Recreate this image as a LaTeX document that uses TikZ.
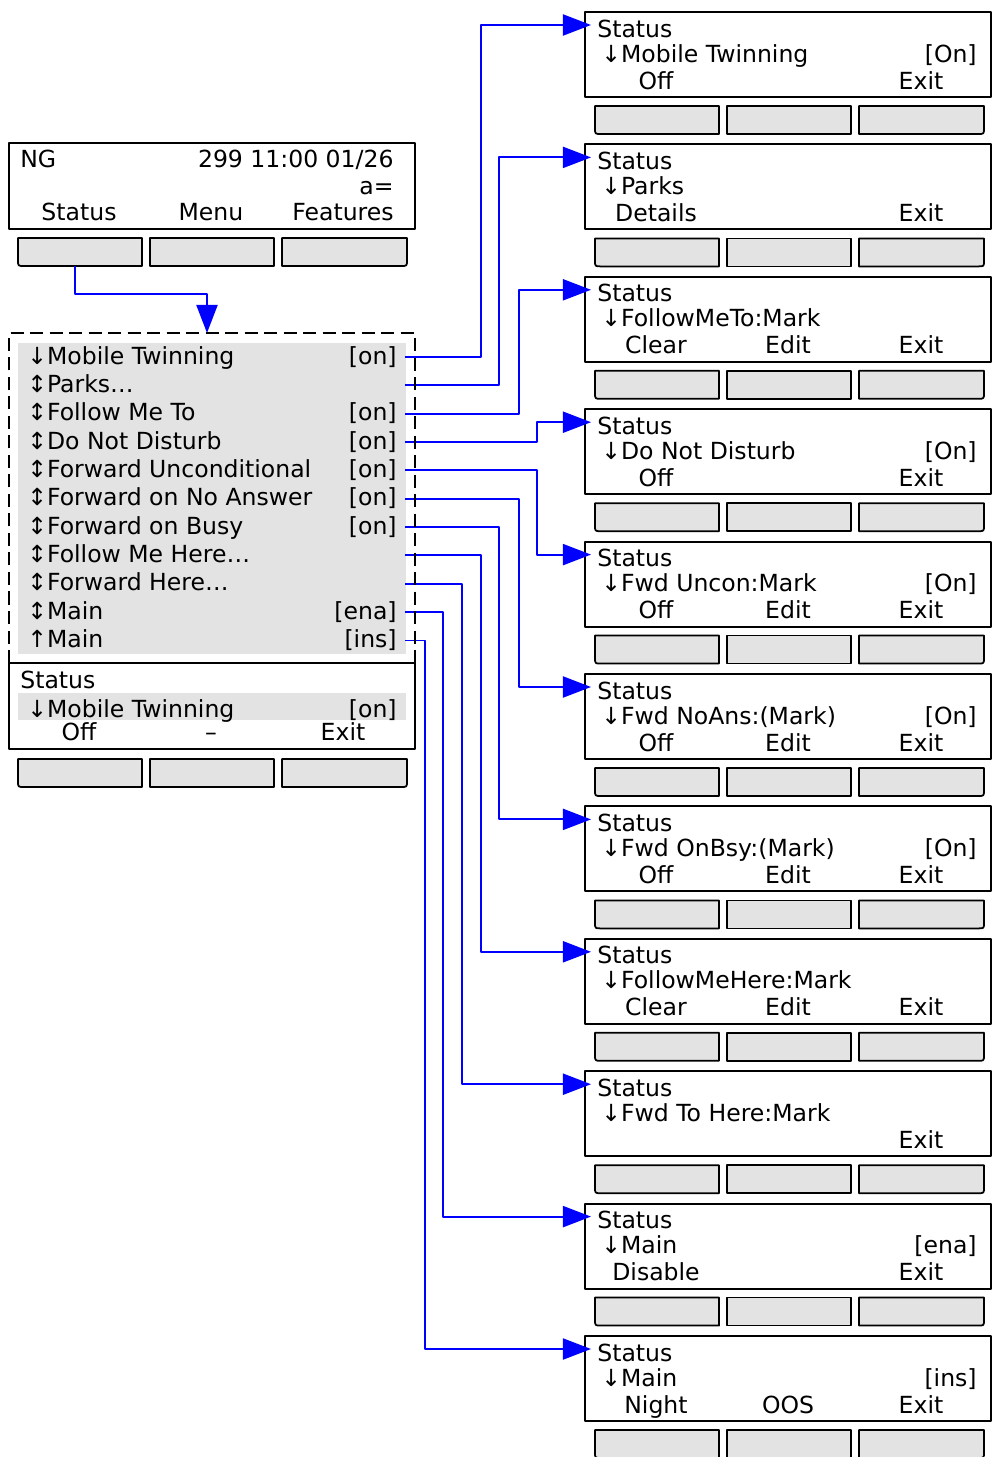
\documentclass[tikz,border=0pt]{standalone}
\usepackage{fontspec}
\setmainfont{DejaVu Sans}
\usetikzlibrary{arrows.meta}

\begin{document}
\begin{tikzpicture}[x=0.02cm, y=-0.02cm, line join=round, font=\fontsize{13.4}{16}\selectfont]
  \useasboundingbox (0,0) rectangle (994,1457);

  % Estilos
  \tikzset{
    screenbox/.style={draw=black, line width=1.1pt},
    keybox/.style={draw=black, line width=1pt, fill=black!11},
    link/.style={draw=blue, line width=1.1pt},
    linktip/.style={-{Triangle[length=16pt,width=12pt]}},
    txtl/.style={inner sep=0pt, anchor=base west},
    txtr/.style={inner sep=0pt, anchor=base east},
    txtc/.style={inner sep=0pt, anchor=base},
    softkeys/.pic={
      \path[keybox] (0,0) -- (124,0) -- (124,28) -- (6,28) .. controls (0,28) .. (0,22) -- cycle;
      \path[keybox] (132,0) rectangle (256,28);
      \path[keybox] (264,0) -- (389,0) -- (389,22) .. controls (389,28) .. (383,28) -- (264,28) -- cycle;
      \coordinate (-a) at (57,28);
    }
  }

  % Pantalla inicial
  \draw[screenbox] (9,143) rectangle (415,229);
  \node[txtl] (ng) at (20,167) {NG};
  \node[txtr] (clock) at (394,167) {299 11:00 01/26};
  \node[txtr] (aeq) at (394,194) {a=};
  \node[txtc] (kstatus) at (79,220) {Status};
  \node[txtc] (kmenu) at (211,220) {Menu};
  \node[txtc] (kfeat) at (343,220) {Features};
  \pic (home) at (18,238) {softkeys};

  % Lista del menu Status
  \coordinate (mtop) at (207,333);
  \fill[black!11] (18,343) rectangle (406,654);
  \foreach \k/\sym/\txt/\val in {1/↓/Mobile Twinning/[on], 2/↕/{Parks\ldots}/, 3/↕/Follow Me To/[on],
      4/↕/Do Not Disturb/[on], 5/↕/Forward Unconditional/[on], 6/↕/Forward on No Answer/[on],
      7/↕/Forward on Busy/[on], 8/↕/{Follow Me Here\ldots}/, 9/↕/{Forward Here\ldots}/,
      10/↕/Main/[ena], 11/↑/Main/[ins]}{
    \pgfmathsetmacro\ry{357+28.35*(\k-1)}
    \node[txtl] (m\k) at (27,\ry+7) {\sym\txt};
    \node[txtr] (v\k) at (397,\ry+7) {\val};
    \coordinate (out\k) at (405,\ry);
  }

  % Pantalla Status con Mobile Twinning
  \draw[screenbox] (9,663) rectangle (415,749);
  \fill[black!11] (18,693) rectangle (406,720);
  \node[txtl] (lst) at (20,688) {Status};
  \node[txtl] (lmt) at (27,717) {↓Mobile Twinning};
  \node[txtr] (lon) at (397,717) {[on]};
  \node[txtc] (loff) at (79,740) {Off};
  \node[txtc] (ldash) at (211,740) {–};
  \node[txtc] (lexit) at (343,740) {Exit};
  \pic (menu) at (18,759) {softkeys};

  % Pantallas de cada opcion
  \foreach \i/\item/\val/\ka/\kb in {0/Mobile Twinning/[On]/Off/, 1/Parks//Details/,
      2/FollowMeTo:Mark//Clear/Edit, 3/Do Not Disturb/[On]/Off/, 4/Fwd Uncon:Mark/[On]/Off/Edit,
      5/Fwd NoAns:(Mark)/[On]/Off/Edit, 6/Fwd OnBsy:(Mark)/[On]/Off/Edit,
      7/FollowMeHere:Mark//Clear/Edit, 8/Fwd To Here:Mark///, 9/Main/[ena]/Disable/,
      10/Main/[ins]/Night/OOS}{
    \pgfmathsetmacro\top{12+132.4*\i}
    \draw[screenbox] (585,\top) rectangle (991,\top+85);
    \node[txtl] (st\i) at (597,\top+25) {Status};
    \node[txtl] (it\i) at (601,\top+50) {↓\item};
    \node[txtr] (vl\i) at (977,\top+50) {\val};
    \node[txtc] (ka\i) at (656,\top+77) {\ka};
    \node[txtc] (kb\i) at (788,\top+77) {\kb};
    \node[txtc] (kc\i) at (921,\top+77) {Exit};
    \pic (sk\i) at (595,\top+94) {softkeys};
    \coordinate (in\i) at (591,\top+13);
  }

  % Conexiones
  \draw[link, linktip] (home-a) -- ++(0,28) -| (mtop);
  \foreach \k/\i/\dx in {1/0/76, 2/1/94, 3/2/114, 4/3/132, 5/4/132, 6/5/114,
      7/6/94, 8/7/76, 9/8/57, 10/9/38, 11/10/20}{
    \draw[link, linktip] (out\k) -- ++(\dx,0) |- (in\i);
  }

  % Borde discontinuo del menu (encima de las conexiones)
  \draw[line width=1.1pt, dash pattern=on 7.4pt off 3.7pt] (9,663) -- (9,333) -- (415,333) -- (415,663);

\end{tikzpicture}
\end{document}
